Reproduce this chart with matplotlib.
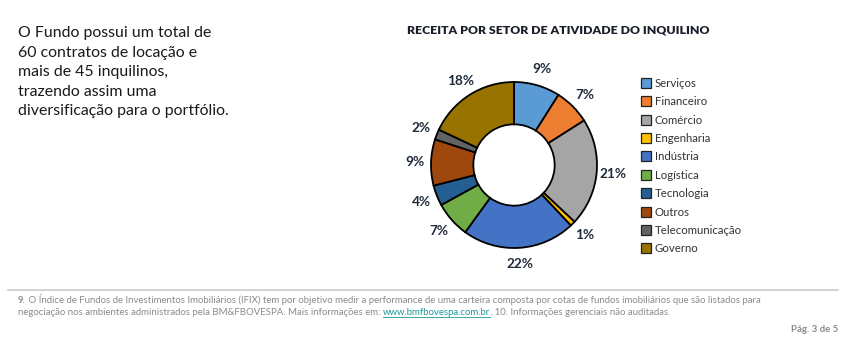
import matplotlib.pyplot as plt
from matplotlib.lines import Line2D
import numpy as np

plt.rcParams['font.family'] = ['Lato', 'DejaVu Sans']

setores = ["Serviços", "Financeiro", "Comércio", "Engenharia", "Indústria",
           "Logística", "Tecnologia", "Outros", "Telecomunicação", "Governo"]
receita = [9, 7, 21, 1, 22, 7, 4, 9, 2, 18]
cores = ["#5B9BD5", "#ED7D31", "#A5A5A5", "#FFC000", "#4472C4",
         "#70AD47", "#255E91", "#9E480E", "#636363", "#997300"]

W, H = 844, 339
fig = plt.figure(figsize=(W / 100, H / 100), dpi=100)
fig.patch.set_facecolor("white")


def px(x, y):
    return x / W, 1 - y / H


# donut
cx, cy, r = 514, 165, 83
box = 240
ax = fig.add_axes([(cx - box / 2) / W, 1 - (cy + box / 2) / H, box / W, box / H])
lim = box / 2 / r
wedges, _ = ax.pie(receita, colors=cores, startangle=90, counterclock=False,
                   radius=1, wedgeprops=dict(width=0.51, edgecolor="black", linewidth=1.3))
ax.set_xlim(-lim, lim)
ax.set_ylim(-lim, lim)
ax.set_aspect("equal")
ax.axis("off")

ang = 90 - 360 * (np.cumsum(receita) - np.array(receita) / 2) / sum(receita)
for a, v in zip(ang, receita):
    rr = 1.2
    ax.text(rr * np.cos(np.radians(a)), rr * np.sin(np.radians(a)), f"{v}%",
            ha="center", va="center", fontsize=9.8, fontweight="bold", color="#1f2a3a")

fig.text(*px(407, 30), "RECEITA POR SETOR DE ATIVIDADE DO INQUILINO", ha="left", va="center",
         fontsize=8.8, fontweight="heavy", color="#1a1f2b")

# legend
handles = [Line2D([], [], marker="s", linestyle="", markersize=7, markerfacecolor=c,
                  markeredgecolor="#222222", markeredgewidth=0.9) for c in cores]
fig.legend(handles, setores, loc="upper left", bbox_to_anchor=px(636, 72), frameon=False,
           fontsize=8.2, labelspacing=0.65, handlelength=0.8, handletextpad=0.35,
           borderpad=0, labelcolor="#333333")

# left text
intro = ["O Fundo possui um total de", "60 contratos de locação e", "mais de 45 inquilinos,",
         "trazendo assim uma", "diversificação para o portfólio."]
for i, linha in enumerate(intro):
    fig.text(*px(18, 33 + i * 19.6), linha, ha="left", va="center", fontsize=11.4, color="#1a1a1a")

# footer
fig.add_artist(Line2D([8 / W, 838 / W], [1 - 290 / H] * 2, color="#cccccc", linewidth=1.2))

fig.canvas.draw()
rend = fig.canvas.get_renderer()
link = "#1a9a9a"


def seq(x, y, parts):
    for txt, kw in parts:
        t = fig.text(*px(x, y), txt, ha="left", va="baseline", fontsize=6.9, **kw)
        bb = t.get_window_extent(rend)
        if kw.get("color") == link:
            fig.add_artist(Line2D([x / W, (x + bb.width) / W], [1 - (y + 1.5) / H] * 2,
                                  color=link, linewidth=0.6))
        x += bb.width


cinza = dict(color="#8a8a8a")
seq(18, 303, [("9.", dict(color="#8a8a8a", fontweight="bold")),
              (" O Índice de Fundos de Investimentos Imobiliários (IFIX) tem por objetivo medir a performance de uma carteira composta por cotas de fundos imobiliários que são listados para", cinza)])
seq(18, 315, [("negociação nos ambientes administrados pela BM&FBOVESPA. Mais informações em: ", cinza),
              ("www.bmfbovespa.com.br", dict(color=link)),
              (". 10. Informações gerenciais não auditadas.", cinza)])
fig.text(*px(838, 329), "Pág. 3 de 5", ha="right", va="center", fontsize=6.9,
         fontweight="bold", color="#8a8a8a")

fig.savefig("out.png", dpi=100, facecolor="white")
